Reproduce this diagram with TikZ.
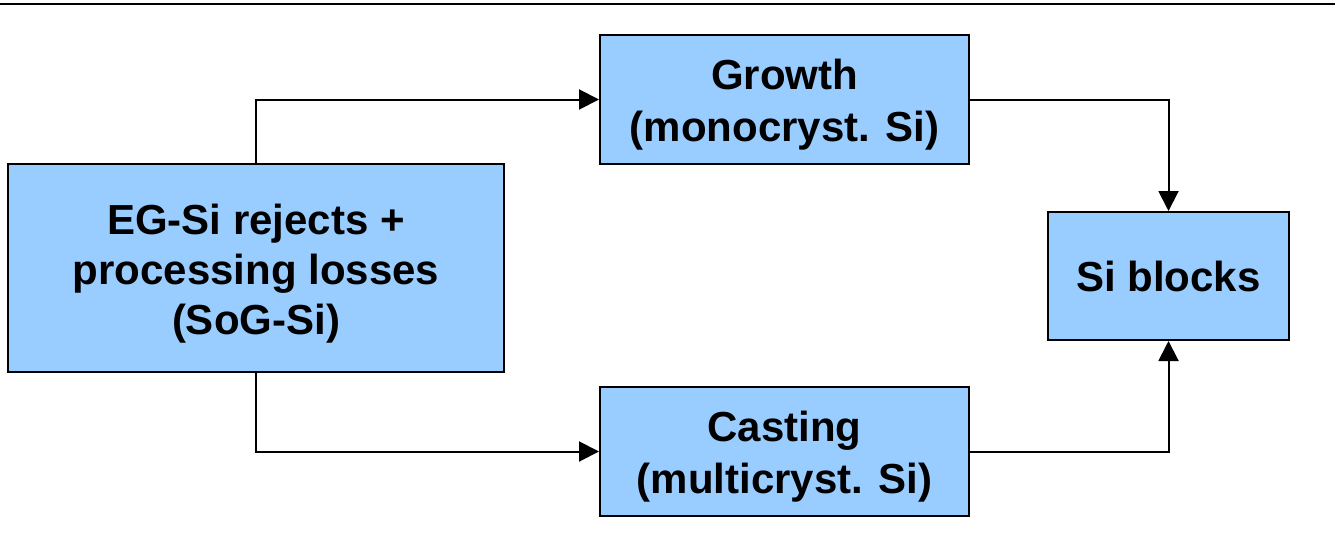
\documentclass[tikz,border=0pt]{standalone}
\usepackage{fontspec}
\setmainfont{Liberation Sans}
\usetikzlibrary{arrows.meta}
\definecolor{boxblue}{HTML}{99CCFF}
\newcommand{\topstrut}{\rule{0pt}{41pt}}
\tikzset{
  procbox/.style={draw=black, line width=2pt, fill=boxblue, inner sep=0pt, align=center,
    font=\fontsize{42}{52}\selectfont\bfseries},
  widebox/.style={procbox, font=\fontsize{42}{50}\selectfont\bfseries},
  flow/.style={draw=black, line width=2pt, -{Triangle[length=20pt,width=20pt]}},
}
\begin{document}
\begin{tikzpicture}[x=1pt,y=-1pt]
\useasboundingbox (0,0) rectangle (1335,546);
\draw[line width=2.2pt] (0,4) -- (1335,4);
\node[widebox, minimum width=496pt, minimum height=208pt] (src) at (256,268) {\topstrut EG-Si rejects +\\processing losses\\(SoG-Si)};
\node[procbox, minimum width=369pt, minimum height=129pt] (grow) at (784.5,99.5) {\topstrut Growth\\(monocryst. Si)};
\node[procbox, minimum width=369pt, minimum height=129pt] (cast) at (784.5,451.5) {\topstrut Casting\\(multicryst. Si)};
\node[procbox, minimum width=241pt, minimum height=128pt] (blocks) at (1168.5,276) {Si blocks};
\draw[flow] (src.north) |- (grow.west);
\draw[flow] (src.south) |- (cast.west);
\draw[flow] (grow.east) -| (blocks.north);
\draw[flow] (cast.east) -| (blocks.south);
\end{tikzpicture}
\end{document}
